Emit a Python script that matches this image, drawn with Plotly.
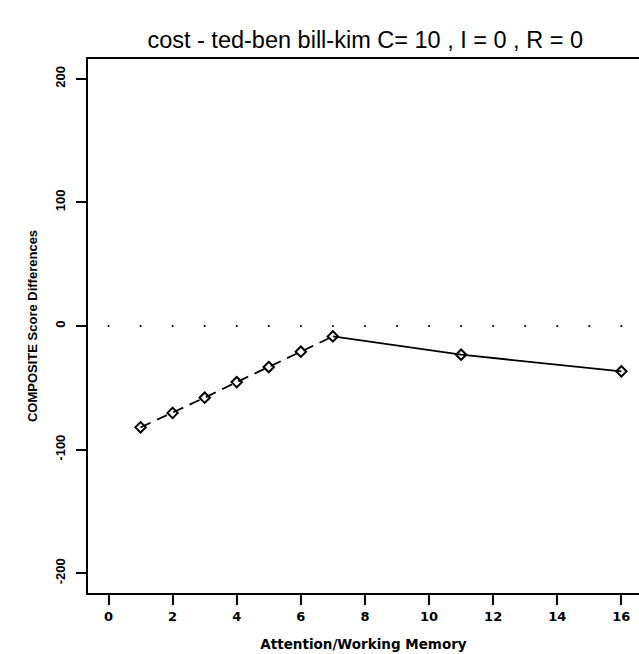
import plotly.graph_objects as go

# Data
attention_x = [1, 2, 3, 4, 5, 6, 7, 11, 16]
score_diff = [-82, -70.3, -58, -45.4, -33.2, -20.8, -8.4, -23.2, -36.7]
dashed_part = 7  # points up to x=7 joined by dashed line, after by solid
zero_dots_x = list(range(0, 17))
zero_dots_y = [0] * len(zero_dots_x)
x_ticks = [0, 2, 4, 6, 8, 10, 12, 14, 16]
y_ticks = [-200, -100, 0, 100, 200]
y_tick_text = ["-200", "-100", "0", "100", "200"]

title_text = "cost - ted-ben bill-kim C= 10 , I = 0 , R = 0"
x_title = "Attention/Working Memory"
y_title = "COMPOSITE Score Differences"

idx = attention_x.index(dashed_part)
dash_x, dash_y = attention_x[: idx + 1], score_diff[: idx + 1]
solid_x, solid_y = attention_x[idx:], score_diff[idx:]

SANS = "Liberation Sans, Arial, sans-serif"
WIDE = "DejaVu Sans, Verdana, sans-serif"

fig = go.Figure()
fig.add_trace(go.Scatter(x=zero_dots_x, y=zero_dots_y, mode="markers",
                         marker=dict(symbol="circle", size=2.2, color="black"),
                         hoverinfo="skip", showlegend=False))
fig.add_trace(go.Scatter(x=dash_x, y=dash_y, mode="lines",
                         line=dict(color="black", width=1.8, dash="11px,7px"),
                         showlegend=False))
fig.add_trace(go.Scatter(x=solid_x, y=solid_y, mode="lines",
                         line=dict(color="black", width=1.8),
                         showlegend=False))
fig.add_trace(go.Scatter(x=attention_x, y=score_diff, mode="markers",
                         marker=dict(symbol="diamond-open", size=8, color="black",
                                     line=dict(width=2, color="black")),
                         showlegend=False))

fig.update_layout(
    width=639, height=654,
    margin=dict(l=88, r=0, t=59, b=61),
    paper_bgcolor="white", plot_bgcolor="white",
    font=dict(family=SANS, color="black"),
    title=dict(text=title_text, x=0.5715, xanchor="center", y=1 - 40 / 654,
               yanchor="middle", font=dict(size=23.5, family=SANS, color="black")),
    xaxis=dict(range=[-0.64, 16.55], tickvals=x_ticks, ticks="outside",
               ticklen=10, tickwidth=1.8, tickcolor="black",
               showline=True, linecolor="black", linewidth=2, mirror=True,
               showgrid=False, zeroline=False,
               tickfont=dict(size=13, family=WIDE, weight="bold", color="black"),
               title=dict(text=x_title,
                          font=dict(size=13.5, family=WIDE, weight="bold", color="black"),
                          standoff=17)),
    yaxis=dict(range=[-216, 216], tickvals=y_ticks, ticktext=y_tick_text,
               ticks="outside", ticklen=10, tickwidth=1.8, tickcolor="black",
               tickangle=-90, ticklabelstandoff=6,
               showline=True, linecolor="black", linewidth=2, mirror=False,
               showgrid=False, zeroline=False,
               tickfont=dict(size=13, family=SANS, weight="bold", color="black"),
               title=dict(text=y_title,
                          font=dict(size=13, family=SANS, weight="bold", color="black"),
                          standoff=12)),
)

fig.write_html(
    "out.html",
    config={"displayModeBar": False},
    post_script="document.body.style.margin='0';document.body.style.overflow='hidden';",
)
